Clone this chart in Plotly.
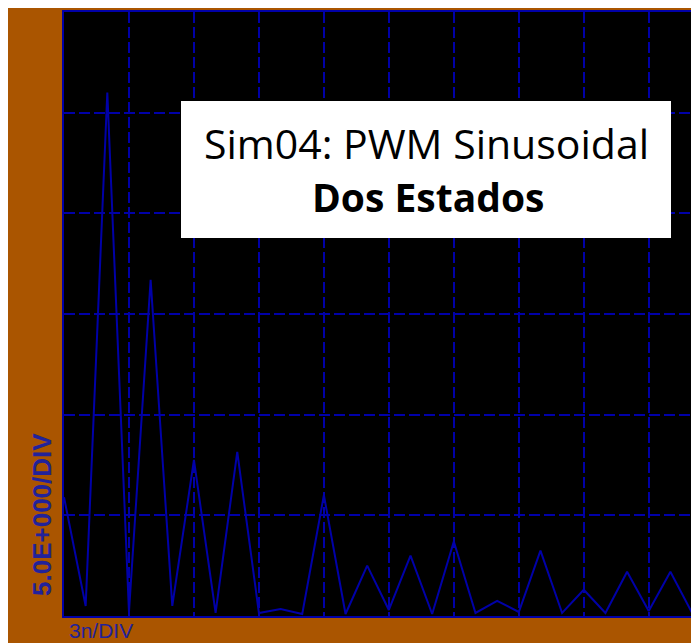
import plotly.graph_objects as go

# Harmonic order (x axis, 3n per division) and amplitude (5 units per division)
harmonic = list(range(0, 31))
amplitude = [5.9, 0.5, 26.0, 0.2, 16.7, 0.5, 7.75, 0.15, 8.15, 0.15,
             0.35, 0.1, 6.0, 0.1, 2.5, 0.3, 3.0, 0.1, 3.7, 0.15,
             0.75, 0.2, 3.25, 0.15, 1.3, 0.15, 2.2, 0.25, 2.2, 0.15, 0.6]

x_ticks = [0, 3, 6, 9, 12, 15, 18, 21, 24, 27]
y_ticks = [0, 5, 10, 15, 20, 25, 30]

title_line1 = "Sim04: PWM Sinusoidal"
title_line2 = "Dos Estados"
x_label = "3n/DIV"
y_label = "5.0E+000/DIV"

BLUE = "#0000A8"
ORANGE = "#AA5500"

W, H = 699, 643
L, R, T, B = 56, 0, 4, 35
pw, ph = W - L - R, H - T - B

def px(x):
    return (x - L) / pw

def py(y):
    return (H - B - y) / ph

fig = go.Figure()
fig.add_trace(go.Scatter(x=harmonic, y=amplitude, mode="lines",
                         line=dict(color=BLUE, width=2), hoverinfo="skip",
                         showlegend=False))

fig.update_layout(
    width=W, height=H,
    margin=dict(l=L, r=R, t=T, b=B, pad=0),
    paper_bgcolor=ORANGE, plot_bgcolor="black",
    showlegend=False,
    xaxis=dict(range=[0, 29.69], tickvals=x_ticks, showticklabels=False,
               ticks="", showgrid=True, gridcolor=BLUE, gridwidth=2,
               griddash="11px,4px", zeroline=False,
               showline=True, linecolor=BLUE, linewidth=2, mirror=True),
    yaxis=dict(range=[0, 30], tickvals=y_ticks, showticklabels=False,
               ticks="", showgrid=True, gridcolor=BLUE, gridwidth=2,
               griddash="11px,4px", zeroline=False,
               showline=True, linecolor=BLUE, linewidth=2, mirror=False),
    shapes=[dict(type="rect", xref="paper", yref="paper",
                 x0=px(173), x1=px(663), y0=py(230), y1=py(93),
                 fillcolor="white", line=dict(width=0), layer="above")],
    annotations=[
        dict(text=title_line1, xref="paper", yref="paper", x=px(418), y=py(135),
             xanchor="center", yanchor="middle", showarrow=False,
             font=dict(family="Open Sans", size=41, color="black")),
        dict(text="<b>" + title_line2 + "</b>", xref="paper", yref="paper",
             x=px(420), y=py(188), xanchor="center", yanchor="middle",
             showarrow=False, font=dict(family="Open Sans", size=39, color="black")),
        dict(text=x_label, xref="paper", yref="paper", x=px(59), y=py(622),
             xanchor="left", yanchor="middle", showarrow=False,
             font=dict(family="Liberation Sans", size=21, color="#22229A")),
        dict(text="<b>" + y_label + "</b>", xref="paper", yref="paper",
             x=px(34), y=py(507), xanchor="center", yanchor="middle",
             textangle=-90, showarrow=False,
             font=dict(family="Liberation Sans", size=26, color="#22229A")),
    ],
)

fig.write_html("out.html", config={"displayModeBar": False})
